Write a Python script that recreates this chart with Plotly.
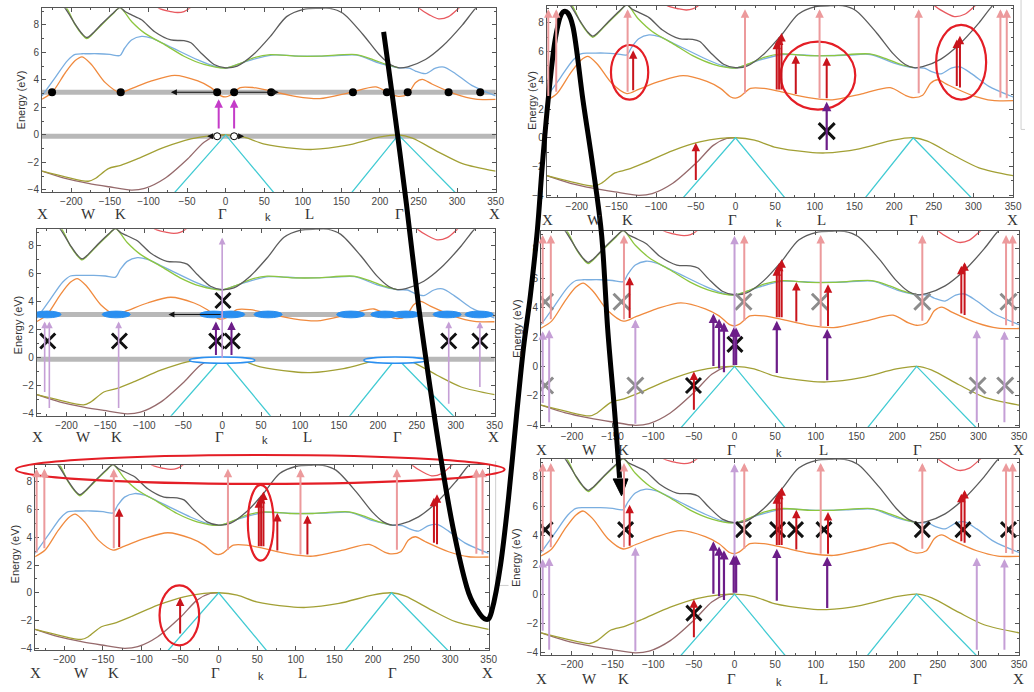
import plotly.graph_objects as go

W, H = 1034, 692

# ---------------- band energies (eV) along X-W-K-Γ-L-Γ-X ----------------
DARK_K = [-245, -215, -208, -195, -186, -180, -174, -160, -146, -137, -130, -122, -109, -92, -71, -54, -45, -32, -15, 0,
          15, 36, 58, 79, 101, 120, 135, 152, 178, 199, 214, 225, 236, 259, 281, 307, 324, 340]
DARK_E = [11.5, 9.6, 9.2, 8.05, 7.35, 7.08, 7.3, 8.1, 8.85, 9.25, 8.95, 8.73, 8.37, 7.5, 6.9, 6.85, 6.7, 5.96, 5.12, 4.88,
          5.0, 5.84, 7.16, 8.6, 9.13, 9.2, 9.2, 8.85, 7.3, 5.84, 5.1, 4.88, 4.95, 5.48, 6.44, 8.0, 9.2, 10.0]

GREEN_K = [-245, -215, -206, -195, -186, -180, -174, -160, -146, -137, -122, -105, -79, -54, -28, 0,
           19, 36, 58, 92, 122, 169, 191, 208, 224]
GREEN_E = [11.5, 9.6, 9.2, 8.0, 7.3, 7.0, 7.25, 8.05, 8.8, 9.25, 8.25, 7.4, 6.56, 5.72, 5.12, 4.86,
           5.2, 5.6, 5.84, 5.72, 5.72, 5.84, 5.48, 5.12, 4.88]

BLUE_K = [-238, -221, -205, -195, -186, -180, -165, -150, -137, -131, -122, -109, -96, -79, -66, -36, -15, 0,
          30, 60, 100, 140, 170, 200, 224, 238, 246, 259, 272, 283, 298, 319, 350]
BLUE_E = [2.84, 4.16, 5.4, 5.85, 5.9, 5.9, 5.9, 5.85, 5.77, 6.3, 6.9, 7.16, 7.04, 6.6, 6.25, 5.45, 5.0, 4.86,
          5.4, 5.8, 5.72, 5.75, 5.8, 5.2, 4.88, 4.85, 4.64, 4.45, 4.85, 4.93, 4.45, 3.6, 2.84]

ORANGE_K = [-238, -225, -208, -195, -186, -174, -156, -137, -122, -96, -66, -36, -19, -6, 0, 6, 19, 36, 58, 92, 122,
            161, 195, 214, 224, 236, 246, 255, 268, 298, 324, 350]
ORANGE_E = [2.6, 3.08, 4.5, 5.4, 5.67, 5.12, 3.8, 3.08, 3.37, 3.92, 4.33, 3.92, 3.44, 2.84, 2.76, 2.88, 3.44, 3.44, 3.2,
            2.79, 2.64, 3.08, 3.49, 2.96, 2.8, 2.96, 3.8, 4.04, 3.68, 2.96, 2.6, 2.58]

RED_L_K = [-100, -86, -71, -62, -54, -47, -35]
RED_L_E = [9.9, 9.2, 8.97, 8.9, 8.97, 9.2, 9.9]
RED_R_K = [240, 251, 264, 276, 289, 302, 315]
RED_R_E = [9.9, 9.2, 8.73, 8.44, 8.6, 9.2, 9.9]

OLIVE_K = [-238, -208, -178, -169, -152, -136, -114, -79, -45, -19, 0, 24, 49, 92, 113, 156, 199, 224, 242, 276, 307, 350]
OLIVE_E = [-2.64, -3.05, -3.37, -3.17, -2.45, -2.21, -1.73, -0.89, -0.29, -0.05, 0.0, -0.17, -0.65, -1.0, -1.06, -0.77,
           -0.17, 0.0, -0.24, -1.25, -2.09, -2.64]

BROWN_K = [-238, -208, -178, -152, -122, -105, -79, -49, -28, -11, 0]
BROWN_E = [-2.64, -3.17, -3.53, -3.77, -4.01, -3.89, -3.17, -1.73, -0.53, -0.05, 0.0]

CYAN_L_K = [-71, 0, 67]
CYAN_L_E = [-4.5, 0.0, -4.5]
CYAN_R_K = [159, 224, 303]
CYAN_R_E = [-4.5, 0.0, -4.5]

# high-symmetry points
SYM_LABELS = ["X", "W", "K", "Γ", "L", "Γ", "X"]
SYM_K = [-237, -178, -136, -4, 109, 225, 349]
K_LABEL_POS = 55

# ---------------- transitions and markers ----------------
# carrier positions on the conduction band edge
EDGE_K = [-225, -136, -11, 11, 59, 165, 209, 236, 289, 330]
EDGE_E = [3.1, 3.1, 3.1, 3.1, 3.1, 3.1, 3.1, 3.1, 3.1, 3.1]
HOLE_K = [-11, 11]
HOLE_E = [-0.1, -0.1]
STRIP_E = [3.1, -0.1]

PUMP_K = [-9, 11]
PUMP_FROM = [0.35, 0.35]
PUMP_TO = [2.6, 2.6]

# high-energy (secondary) transitions
HI_K = [-236, -226, -136, 12, 106, 231, 334, 342]
HI_FROM = [2.8, 3.1, 3.1, 3.0, 2.65, 3.0, 2.7, 2.65]
HI_TO = [8.95, 8.95, 8.95, 8.95, 8.95, 8.95, 8.95, 8.95]

# conduction-to-conduction transitions
CC_K = [-129, 52, 55, 58, 76, 115, 279, 283, -50]
CC_FROM = [3.2, 3.25, 3.25, 3.25, 2.95, 2.65, 3.5, 3.4, -3.05]
CC_TO = [6.1, 6.75, 7.05, 7.3, 5.75, 5.6, 6.85, 7.1, -0.35]

# weak interband transitions
WEAK_K = [-236, -228, -122, 0, 298, 332]
WEAK_FROM = [-2.6, -3.9, -4.0, 0.0, -3.9, -3.9]
WEAK_TO = [2.4, 2.5, 3.2, 8.9, 2.5, 2.4]

WEAK2_K = [-228, -222, -133, 0, 291, 331]
WEAK2_FROM = [-2.55, -3.7, -3.7, -0.1, -3.4, -2.2]
WEAK2_TO = [2.6, 2.6, 2.6, 8.6, 2.6, 2.6]

# strong interband transitions
VB_K = [-26, -19, -13, -1, 2, 52, 114]
VB_FROM = [-0.07, -0.25, -0.5, 0.0, 0.0, -0.55, -1.05]
VB_TO = [3.6, 3.25, 3.0, 2.65, 2.65, 3.1, 2.55]

VB2_K = [-8, 12]
VB2_FROM = [0.1, 0.1]
VB2_TO = [2.6, 2.6]

L_K = [115]
L_FROM = [-0.95]
L_TO = [2.5]

# crossed-out transitions
CROSS3_K = [-224, -132, -7, 13, 1, 291, 331]
CROSS3_E = [1.2, 1.2, 1.2, 1.2, 4.1, 1.2, 1.2]
CROSS2_K = [115]
CROSS2_E = [0.46]
GREY4_K = [-233, -139, 11, 105, 231, 337, -233, -122, 299, 333]
GREY4_E = [4.4, 4.4, 4.4, 4.4, 4.4, 4.4, -1.3, -1.3, -1.3, -1.3]
CROSS4_K = [-50.5, 0.5]
CROSS4_E = [-1.3, 1.5]
CROSS6_K = [-233, -134, 11, 53, 75, 110, 231, 281, 337, -50]
CROSS6_E = [4.4, 4.4, 4.4, 4.4, 4.4, 4.4, 4.4, 4.4, 4.4, -1.3]

# highlighted regions (centre k, centre E, half-width k, half-height E)
RING2 = [(-133.5, 4.56, 23.5, 1.9), (104, 4.33, 47, 2.37), (284.5, 5.26, 31.5, 2.6)]
RING5 = [(54.5, 5.05, 16.7, 2.73), (-51, -1.63, 25.7, 2.16)]

# ---------------- colours ----------------
C_DARK, C_GREEN, C_BLUE, C_ORANGE = "#5c5c5c", "#8dc63f", "#7aaee0", "#f08a3e"
C_RED, C_OLIVE, C_BROWN, C_CYAN = "#e8595f", "#a2a035", "#966a6c", "#42cbd3"
C_HI, C_CC, C_WEAK, C_VB, C_PUMP = "#ec9a9c", "#c8141c", "#c59fd6", "#6c1d88", "#c43cc8"

XR = [-238, 350]
YR = [-4.15, 9.2]

# panel boxes in pixels: left, right, top, bottom
PANELS = {
    1: dict(box=(42.4, 500, 8.4, 192.8), sym_y=215, title=(21, 100)),
    2: dict(box=(551.5, 1022, 5.7, 198.2), sym_y=221, title=(536, 101)),
    3: dict(box=(37.2, 499, 230.2, 417.6), sym_y=439, title=(18, 326)),
    4: dict(box=(545.8, 1028, 232.3, 429.2), sym_y=452, title=(521, 330)),
    5: dict(box=(35.4, 493, 467.3, 653.1), sym_y=676, title=(15, 556)),
    6: dict(box=(545.8, 1028, 461.3, 657.8), sym_y=682, title=(520, 560)),
}

fig = go.Figure()


def px(x):
    return x / W


def py(y):
    return 1 - y / H


def names(i):
    return ("x" if i == 1 else f"x{i}", "y" if i == 1 else f"y{i}")


def line(i, k, e, color, width=1.3, shape="spline"):
    xa, ya = names(i)
    fig.add_trace(go.Scatter(x=k, y=e, mode="lines", xaxis=xa, yaxis=ya,
                             line=dict(color=color, width=width, shape=shape, smoothing=0.8),
                             hoverinfo="skip", showlegend=False))


def bands(i):
    line(i, ORANGE_K, ORANGE_E, C_ORANGE)
    line(i, BLUE_K, BLUE_E, C_BLUE)
    line(i, GREEN_K, GREEN_E, C_GREEN)
    line(i, DARK_K, DARK_E, C_DARK)
    line(i, RED_L_K, RED_L_E, C_RED)
    line(i, RED_R_K, RED_R_E, C_RED)
    line(i, BROWN_K, BROWN_E, C_BROWN)
    line(i, OLIVE_K, OLIVE_E, C_OLIVE)
    line(i, CYAN_L_K, CYAN_L_E, C_CYAN, shape="linear")
    line(i, CYAN_R_K, CYAN_R_E, C_CYAN, shape="linear")


def strips(i):
    for e in STRIP_E:
        line(i, [XR[0] - 20, XR[1] + 20], [e, e], "#b8b8b8", width=5, shape="linear")


def arrows(i, ks, e0, e1, color, width=2.0, size=0.85):
    xa, ya = names(i)
    for k, a, b in zip(ks, e0, e1):
        fig.add_annotation(x=k, y=b, ax=k, ay=a, xref=xa, yref=ya, axref=xa, ayref=ya,
                           showarrow=True, arrowhead=2, arrowsize=size, arrowwidth=width,
                           arrowcolor=color, text="", standoff=0)


def harrow(i, k0, k1, e, width=1.0, size=1.2):
    xa, ya = names(i)
    fig.add_annotation(x=k1, y=e, ax=k0, ay=e, xref=xa, yref=ya, axref=xa, ayref=ya,
                       showarrow=True, arrowhead=2, arrowsize=size, arrowwidth=width,
                       arrowcolor="#111", text="", standoff=0)


def crosses(i, ks, es, color="#111", size=15, width=3):
    xa, ya = names(i)
    fig.add_trace(go.Scatter(x=ks, y=es, mode="markers", xaxis=xa, yaxis=ya,
                             marker=dict(symbol="x-thin", size=size, color=color,
                                         line=dict(color=color, width=width)),
                             hoverinfo="skip", showlegend=False))


def ellipse(i, k, e, rk, re, line_color, fill=None, width=2):
    xa, ya = names(i)
    fig.add_shape(type="circle", xref=xa, yref=ya, x0=k - rk, x1=k + rk, y0=e - re, y1=e + re,
                  line=dict(color=line_color, width=width), fillcolor=fill, layer="above")


# ---- panel 1: relaxed carriers at the band edges ----
strips(1)
bands(1)
harrow(1, -11, -71, 3.1)
harrow(1, 11, 69, 3.1)
harrow(1, -16, -24, -0.1, width=1.2, size=1.0)
harrow(1, 16, 24, -0.1, width=1.2, size=1.0)
fig.add_trace(go.Scatter(x=EDGE_K, y=EDGE_E, mode="markers", xaxis="x", yaxis="y",
                         marker=dict(size=8, color="#000"), hoverinfo="skip", showlegend=False))
fig.add_trace(go.Scatter(x=HOLE_K, y=HOLE_E, mode="markers", xaxis="x", yaxis="y",
                         marker=dict(size=7, color="#fff", line=dict(color="#000", width=1)),
                         hoverinfo="skip", showlegend=False))
arrows(1, PUMP_K, PUMP_FROM, PUMP_TO, C_PUMP, width=2)

# ---- panel 3: smeared carrier distributions ----
strips(3)
bands(3)
arrows(3, WEAK2_K, WEAK2_FROM, WEAK2_TO, C_WEAK, width=1.6)
arrows(3, VB2_K, VB2_FROM, VB2_TO, C_VB, width=2)
for k in EDGE_K:
    ellipse(3, k, 3.1, 18, 0.24, "#2a8ff0", fill="#2a8ff0", width=1)
ellipse(3, 0, -0.17, 42, 0.22, "#2a8ff0", fill="#ffffff", width=1.5)
ellipse(3, 222, -0.17, 40, 0.22, "#2a8ff0", fill="#ffffff", width=1.5)
harrow(3, 0, -69, 3.1)
crosses(3, CROSS3_K, CROSS3_E)

# ---- panel 5: all transitions ----
bands(5)
arrows(5, HI_K, HI_FROM, HI_TO, C_HI, width=2)
arrows(5, CC_K, CC_FROM, CC_TO, C_CC, width=2)
for k, e, rk, re in RING5:
    ellipse(5, k, e, rk, re, "#e41e26", width=2.2)

# ---- panel 2 ----
bands(2)
arrows(2, HI_K, HI_FROM, HI_TO, C_HI, width=2)
arrows(2, CC_K, CC_FROM, CC_TO, C_CC, width=2)
arrows(2, L_K, L_FROM, L_TO, C_VB, width=2.2)
for k, e, rk, re in RING2:
    ellipse(2, k, e, rk, re, "#e41e26", width=2.2)
crosses(2, CROSS2_K, CROSS2_E, size=16)

# ---- panel 4 ----
bands(4)
arrows(4, HI_K, HI_FROM, HI_TO, C_HI, width=2)
arrows(4, WEAK_K, WEAK_FROM, WEAK_TO, C_WEAK, width=2)
arrows(4, CC_K, CC_FROM, CC_TO, C_CC, width=2)
arrows(4, VB_K, VB_FROM, VB_TO, C_VB, width=2.2)
crosses(4, GREY4_K, GREY4_E, color="#8c8c8c", size=16)
crosses(4, CROSS4_K, CROSS4_E, size=15)

# ---- panel 6 ----
bands(6)
arrows(6, HI_K, HI_FROM, HI_TO, C_HI, width=2)
arrows(6, WEAK_K, WEAK_FROM, WEAK_TO, C_WEAK, width=2)
arrows(6, CC_K, CC_FROM, CC_TO, C_CC, width=2)
arrows(6, VB_K, VB_FROM, VB_TO, C_VB, width=2.2)
crosses(6, CROSS6_K, CROSS6_E, size=15)

# ---------------- axes ----------------
tickfont = dict(family="Liberation Sans, Arial, sans-serif", size=10, color="#444")
layout_axes = {}
for i, p in PANELS.items():
    l, r, t, b = p["box"]
    xa, ya = names(i)
    xkey = "xaxis" if i == 1 else f"xaxis{i}"
    ykey = "yaxis" if i == 1 else f"yaxis{i}"
    common = dict(showline=True, mirror="ticks", linecolor="#555", linewidth=1, ticks="inside",
                  ticklen=4, tickcolor="#555", showgrid=False, zeroline=False, tickfont=tickfont)
    layout_axes[xkey] = dict(common, domain=[px(l), px(r)], anchor=ya, range=XR, dtick=50, tick0=0,
                             minor=dict(ticks="inside", ticklen=2, tickcolor="#555", dtick=25))
    layout_axes[ykey] = dict(common, domain=[py(b), py(t)], anchor=xa, range=YR, dtick=2, tick0=0,
                             minor=dict(ticks="inside", ticklen=2, tickcolor="#555", dtick=1))
    # high-symmetry labels
    for lab, k in zip(SYM_LABELS, SYM_K):
        fig.add_annotation(x=k, y=py(p["sym_y"]), xref=xa, yref="paper", text=lab, showarrow=False,
                           font=dict(family="Liberation Serif, Times New Roman, serif", size=15, color="#333"),
                           xanchor="center", yanchor="middle")
    fig.add_annotation(x=K_LABEL_POS, y=py(p["sym_y"] + 3), xref=xa, yref="paper", text="k",
                       showarrow=False, font=dict(family="Liberation Sans, Arial", size=11, color="#333"),
                       xanchor="center", yanchor="middle")
    tx, ty = p["title"]
    fig.add_annotation(x=px(tx), y=py(ty), xref="paper", yref="paper", text="Energy (eV)", textangle=-90,
                       showarrow=False, font=dict(family="Liberation Sans, Arial", size=11, color="#333"),
                       xanchor="center", yanchor="middle")

fig.update_layout(**layout_axes)

# ---------------- hand-drawn overlays (paper pixels) ----------------
# large outline around the top of the lower-left panel
fig.add_shape(type="circle", xref="paper", yref="paper", x0=px(16), x1=px(509), y0=py(486), y1=py(457),
              line=dict(color="#e41e26", width=2.2), layer="above")

# faint frames of neighbouring figures
for pts in ([(500, 463), (500, 588), (513, 588)], [(1030, 0), (1030, 130), (1034, 130)]):
    d = "M " + " L ".join(f"{px(a):.5f},{py(b):.5f}" for a, b in pts)
    fig.add_shape(type="path", xref="paper", yref="paper", path=d,
                  line=dict(color="#cfcfcf", width=1), layer="below")

# sweeping arrow linking the panels
CURVE = [(387, 32), (399, 120), (410, 205), (422, 305), (434, 390), (445, 462), (457, 530), (471, 590),
         (481, 612), (490, 622), (496, 614), (505, 567), (513, 500), (521, 418), (528, 350), (535, 297),
         (542, 232), (547, 167), (553, 100), (560, 40), (568, 12), (578, 27), (588, 100), (598, 167),
         (607, 237), (613, 330), (620, 413), (625, 480)]


def smooth(pts):
    d = f"M {px(pts[0][0]):.5f},{py(pts[0][1]):.5f}"
    n = len(pts)
    for j in range(n - 1):
        p0 = pts[j - 1] if j > 0 else pts[j]
        p1, p2 = pts[j], pts[j + 1]
        p3 = pts[j + 2] if j + 2 < n else p2
        c1 = (p1[0] + (p2[0] - p0[0]) / 6, p1[1] + (p2[1] - p0[1]) / 6)
        c2 = (p2[0] - (p3[0] - p1[0]) / 6, p2[1] - (p3[1] - p1[1]) / 6)
        d += (f" C {px(c1[0]):.5f},{py(c1[1]):.5f} {px(c2[0]):.5f},{py(c2[1]):.5f}"
              f" {px(p2[0]):.5f},{py(p2[1]):.5f}")
    return d


fig.add_shape(type="path", xref="paper", yref="paper", path=smooth(CURVE),
              line=dict(color="#000", width=5), layer="above")
head = [(618.5, 481), (633.5, 481), (627, 498)]
fig.add_shape(type="path", xref="paper", yref="paper",
              path="M " + " L ".join(f"{px(a):.5f},{py(b):.5f}" for a, b in head) + " Z",
              line=dict(color="#000", width=1), fillcolor="#000", layer="above")

fig.update_layout(width=W, height=H, autosize=False, margin=dict(l=0, r=0, t=0, b=0),
                  paper_bgcolor="#ffffff", plot_bgcolor="#ffffff", showlegend=False)

fig.write_html("out.html")
